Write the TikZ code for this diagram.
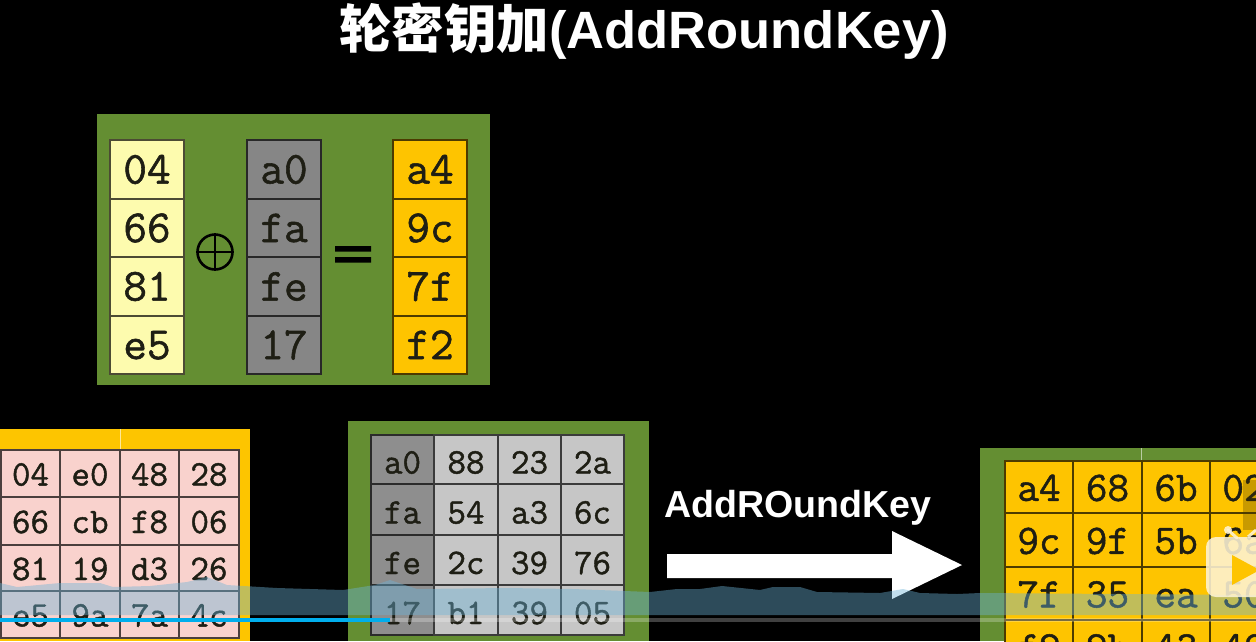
\documentclass[tikz,border=0pt]{standalone}
\usepackage{fontspec}
\setmainfont{Liberation Sans}
\setmonofont{Latin Modern Mono}[FakeBold=1.2]
\newfontfamily\cjkfont{Noto Sans CJK SC}
\definecolor{panelgreen}{HTML}{648E32}
\definecolor{panelgold}{HTML}{FDC500}
\definecolor{paleyellow}{HTML}{FDFBAE}
\definecolor{midgrey}{HTML}{868686}
\definecolor{gold}{HTML}{FEC400}
\definecolor{pink}{HTML}{F9D2CD}
\definecolor{lightgrey}{HTML}{C6C6C6}
\definecolor{darkgrey}{HTML}{8E8E8E}
\definecolor{wave}{HTML}{6CB4D8}
\definecolor{prog}{HTML}{00AEEC}
\definecolor{ink}{HTML}{1E1E14}
\definecolor{cream}{HTML}{FDF3D5}
\tikzset{
  celltxt/.style={font=\ttfamily\fontsize{#1}{#1}\selectfont,text=ink,inner sep=0pt,anchor=center},
}
\def\txtshift{0}
\newcommand{\hexcell}[8]{% name,x0,y0,x1,y1,fill,size,text
  \fill[#6] (#2,#3) rectangle (#4,#5);
  \draw[draw=black!70!#6,line width=1.2pt] (#2,#3) rectangle (#4,#5);
  \node[celltxt=#7] (#1) at ({(#2+#4)/2},{(#3+#5)/2+\txtshift}) {\vphantom{0}#8};
}
\begin{document}
\begin{tikzpicture}[x=1pt,y=-1pt]
\useasboundingbox (0,0) rectangle (1256,641);
\fill[black] (0,0) rectangle (1256,641);
\clip (0,0) rectangle (1256,641);
% title
\node[text=white,font=\cjkfont\bfseries\fontsize{52.5}{52.5}\selectfont,inner sep=0pt] (title) at (644,31) {轮密钥加\fontspec{Liberation Sans}\bfseries(AddRoundKey)};
% top panel
\fill[panelgreen] (97,114) rectangle (490,385);
\hexcell{p1}{110}{140}{184}{199}{paleyellow}{46}{04}
\hexcell{p2}{110}{199}{184}{257}{paleyellow}{46}{66}
\hexcell{p3}{110}{257}{184}{316}{paleyellow}{46}{81}
\hexcell{p4}{110}{316}{184}{374}{paleyellow}{46}{e5}
\hexcell{k1}{247}{140}{321}{199}{midgrey}{46}{a0}
\hexcell{k2}{247}{199}{321}{257}{midgrey}{46}{fa}
\hexcell{k3}{247}{257}{321}{316}{midgrey}{46}{fe}
\hexcell{k4}{247}{316}{321}{374}{midgrey}{46}{17}
\hexcell{r1}{393}{140}{467}{199}{gold}{46}{a4}
\hexcell{r2}{393}{199}{467}{257}{gold}{46}{9c}
\hexcell{r3}{393}{257}{467}{316}{gold}{46}{7f}
\hexcell{r4}{393}{316}{467}{374}{gold}{46}{f2}
\node[circle,draw=black,line width=2.6pt,minimum size=35pt,inner sep=0pt] (xor) at (215,252) {};
\draw[black,line width=2.2pt] (xor.north) -- (xor.south) (xor.west) -- (xor.east);
\fill[black] (335,246) rectangle (371,251.5) (335,257) rectangle (371,262.5);
% left matrix
\def\txtshift{1}
\fill[panelgold] (0,429) rectangle (250,641);
\draw[white!60!panelgold,line width=.8pt] (120,429) -- (120,450);
\hexcell{a11}{1}{450}{60}{497}{pink}{36}{04}
\hexcell{a12}{60}{450}{120}{497}{pink}{36}{e0}
\hexcell{a13}{120}{450}{179}{497}{pink}{36}{48}
\hexcell{a14}{179}{450}{239}{497}{pink}{36}{28}
\hexcell{a21}{1}{497}{60}{545}{pink}{36}{66}
\hexcell{a22}{60}{497}{120}{545}{pink}{36}{cb}
\hexcell{a23}{120}{497}{179}{545}{pink}{36}{f8}
\hexcell{a24}{179}{497}{239}{545}{pink}{36}{06}
\hexcell{a31}{1}{545}{60}{591}{pink}{36}{81}
\hexcell{a32}{60}{545}{120}{591}{pink}{36}{19}
\hexcell{a33}{120}{545}{179}{591}{pink}{36}{d3}
\hexcell{a34}{179}{545}{239}{591}{pink}{36}{26}
\hexcell{a41}{1}{591}{60}{638}{pink}{36}{e5}
\hexcell{a42}{60}{591}{120}{638}{pink}{36}{9a}
\hexcell{a43}{120}{591}{179}{638}{pink}{36}{7a}
\hexcell{a44}{179}{591}{239}{638}{pink}{36}{4c}
% middle matrix
\def\txtshift{3}
\fill[panelgreen] (348,421) rectangle (649,641);
\hexcell{b11}{371}{435}{434}{484}{darkgrey}{36}{a0}
\hexcell{b12}{434}{435}{498}{484}{lightgrey}{36}{88}
\hexcell{b13}{498}{435}{561}{484}{lightgrey}{36}{23}
\hexcell{b14}{561}{435}{624}{484}{lightgrey}{36}{2a}
\hexcell{b21}{371}{484}{434}{535}{darkgrey}{36}{fa}
\hexcell{b22}{434}{484}{498}{535}{lightgrey}{36}{54}
\hexcell{b23}{498}{484}{561}{535}{lightgrey}{36}{a3}
\hexcell{b24}{561}{484}{624}{535}{lightgrey}{36}{6c}
\hexcell{b31}{371}{535}{434}{585}{darkgrey}{36}{fe}
\hexcell{b32}{434}{535}{498}{585}{lightgrey}{36}{2c}
\hexcell{b33}{498}{535}{561}{585}{lightgrey}{36}{39}
\hexcell{b34}{561}{535}{624}{585}{lightgrey}{36}{76}
\hexcell{b41}{371}{585}{434}{635}{darkgrey}{36}{17}
\hexcell{b42}{434}{585}{498}{635}{lightgrey}{36}{b1}
\hexcell{b43}{498}{585}{561}{635}{lightgrey}{36}{39}
\hexcell{b44}{561}{585}{624}{635}{lightgrey}{36}{05}
% arrow + label
\node[text=white,font=\bfseries\fontsize{37.6}{37.6}\selectfont,inner sep=0pt] (lab) at (798,508) {AddROundKey};
\fill[white] (667,554) -- (892,554) -- (892,531) -- (962,565) -- (892,599) -- (892,578) -- (667,578) -- cycle;
% right matrix
\def\txtshift{1}
\fill[panelgreen] (980,448) rectangle (1256,641);
\draw[white!55!panelgreen,line width=.8pt] (1141,448) -- (1141,461);
\hexcell{c11}{1005}{461}{1073}{513}{gold}{42}{a4}
\hexcell{c12}{1073}{461}{1142}{513}{gold}{42}{68}
\hexcell{c13}{1142}{461}{1210}{513}{gold}{42}{6b}
\hexcell{c14}{1210}{461}{1278}{513}{gold}{42}{02}
\hexcell{c21}{1005}{513}{1073}{567}{gold}{42}{9c}
\hexcell{c22}{1073}{513}{1142}{567}{gold}{42}{9f}
\hexcell{c23}{1142}{513}{1210}{567}{gold}{42}{5b}
\hexcell{c24}{1210}{513}{1278}{567}{gold}{42}{6a}
\hexcell{c31}{1005}{567}{1073}{620}{gold}{42}{7f}
\hexcell{c32}{1073}{567}{1142}{620}{gold}{42}{35}
\hexcell{c33}{1142}{567}{1210}{620}{gold}{42}{ea}
\hexcell{c34}{1210}{567}{1278}{620}{gold}{42}{50}
\hexcell{c41}{1005}{620}{1073}{673}{gold}{42}{f2}
\hexcell{c42}{1073}{620}{1142}{673}{gold}{42}{2b}
\hexcell{c43}{1142}{620}{1210}{673}{gold}{42}{43}
\hexcell{c44}{1210}{620}{1278}{673}{gold}{42}{49}
% video player overlay: waveform
\fill[wave,opacity=.42] (0,583) -- (17,587) -- (60,583) -- (100,583) -- (113,587) -- (150,586) -- (187,582) -- (207,577) -- (227,585) -- (277,588) -- (343,590) -- (375,585) -- (390,580) -- (417,589) -- (507,588) -- (573,589) -- (650,592) -- (677,589) -- (700,589) -- (722,586) -- (760,590) -- (773,587) -- (800,587) -- (817,592) -- (880,593) -- (903,589) -- (920,593) -- (957,594) -- (980,593) -- (1256,595) -- (1256,615) -- (0,615) -- cycle;
\fill[white,opacity=.25] (0,617.5) rectangle (1256,622);
\fill[prog] (0,617.5) rectangle (390,622);
% logo
\fill[black!70!gold,opacity=.3] (1243,480) rectangle (1256,530);
\fill[cream,opacity=.88,rounded corners=10pt] (1206,537) rectangle (1270,597);
\draw[cream,opacity=.88,line width=3pt,line cap=round] (1228,530) -- (1237,538);
\fill[cream,opacity=.88] (1228,530) circle (4);
\draw[cream,opacity=.88,line width=3pt] (1248,537) -- (1256,530);
\fill[gold] (1232,555) -- (1256,568) -- (1256,572) -- (1232,585) -- cycle;
\end{tikzpicture}
\end{document}
